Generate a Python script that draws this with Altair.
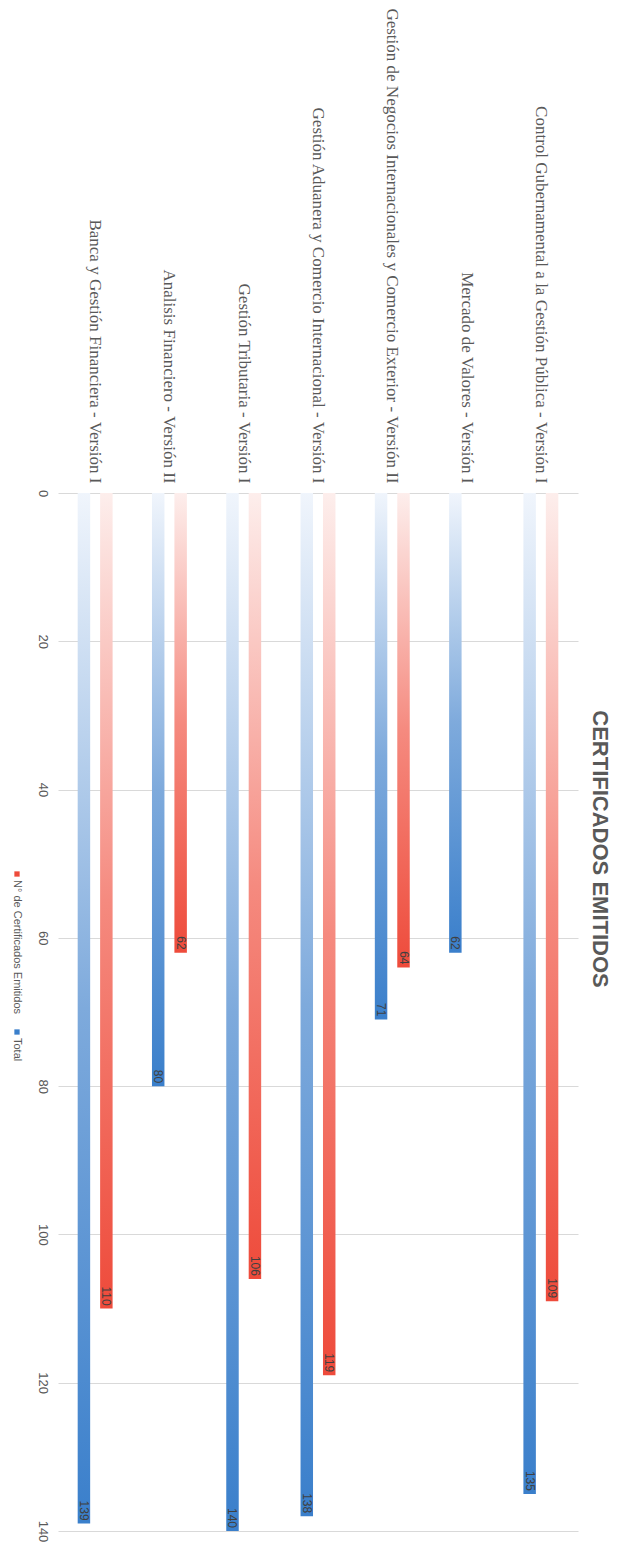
import altair as alt
import pandas as pd

categorias = [
    "Banca y Gestión Financiera - Versión I",
    "Analisis Financiero - Versión II",
    "Gestión Tributaria - Versión I",
    "Gestión Aduanera y Comercio Internacional - Versión I",
    "Gestión de Negocios Internacionales y Comercio Exterior - Versión II",
    "Mercado de Valores - Versión I",
    "Control Gubernamental a la Gestión Pública - Versión I",
]
total = [139, 80, 140, 138, 71, 62, 135]
certificados = [110, 62, 106, 119, 64, None, 109]
series = ["Total", "N° de Certificados Emitidos"]
ticks_y = [0, 20, 40, 60, 80, 100, 120, 140]

BLUE = "#3a7fcb"
RED = "#ee4b3b"

df_total = pd.DataFrame({"categoria": categorias, "valor": total, "serie": series[0]})
df_cert = pd.DataFrame({"categoria": categorias, "valor": certificados, "serie": series[1]}).dropna()
df_cert["valor"] = df_cert["valor"].astype(int)

x_enc = alt.X(
    "categoria:N",
    sort=categorias,
    scale=alt.Scale(paddingInner=0.53, paddingOuter=0.265),
    axis=alt.Axis(
        orient="top", labelAngle=90, title=None, ticks=False, domain=False,
        labelFont="Liberation Serif", labelFontSize=17, labelColor="#595959",
        labelLimit=600, labelPadding=10, grid=False,
    ),
)
xoff_enc = alt.XOffset("serie:N", sort=series,
                       scale=alt.Scale(domain=series, paddingInner=0.444, paddingOuter=0))
y_enc = alt.Y(
    "valor:Q",
    scale=alt.Scale(domain=[0, 140], reverse=True, nice=False),
    axis=alt.Axis(
        values=ticks_y, labelAngle=90, title=None, ticks=False, domain=False,
        grid=True, gridColor="#d9d9d9", labelFontSize=13, labelColor="#595959",
        labelFont="Liberation Sans", labelPadding=10,
    ),
)

grad_blue = alt.Gradient(
    gradient="linear", x1=0, x2=0, y1=0, y2=1,
    stops=[alt.GradientStop(color="#f0f5fc", offset=0),
           alt.GradientStop(color="#7eaadc", offset=0.5),
           alt.GradientStop(color=BLUE, offset=1)],
)
grad_red = alt.Gradient(
    gradient="linear", x1=0, x2=0, y1=0, y2=1,
    stops=[alt.GradientStop(color="#fdeeec", offset=0),
           alt.GradientStop(color="#f58a7f", offset=0.5),
           alt.GradientStop(color=RED, offset=1)],
)

bars_total = alt.Chart(df_total).mark_bar(color=grad_blue).encode(x=x_enc, xOffset=xoff_enc, y=y_enc)
bars_cert = alt.Chart(df_cert).mark_bar(color=grad_red).encode(x=x_enc, xOffset=xoff_enc, y=y_enc)

txt_style = dict(angle=90, align="right", baseline="middle", dx=-3, fontSize=12,
                 color="#404040", font="Liberation Sans")
lab_total = alt.Chart(df_total).mark_text(**txt_style).encode(
    x=x_enc, xOffset=xoff_enc, y=y_enc, text="valor:Q")
lab_cert = alt.Chart(df_cert).mark_text(**txt_style).encode(
    x=x_enc, xOffset=xoff_enc, y=y_enc, text="valor:Q")

# Custom rotated legend
leg_df = pd.DataFrame({"label": [series[1]]})
leg_df2 = pd.DataFrame({"label": [series[0]]})
leg_sq_red = alt.Chart(leg_df).mark_square(size=28, color=RED, opacity=1).encode(
    x=alt.value(-41), y=alt.value(381))
leg_tx_red = alt.Chart(leg_df).mark_text(angle=90, align="left", baseline="middle",
                                         fontSize=11, color="#595959",
                                         font="Liberation Sans").encode(
    x=alt.value(-41), y=alt.value(387), text="label:N")
leg_sq_blue = alt.Chart(leg_df2).mark_square(size=28, color=BLUE, opacity=1).encode(
    x=alt.value(-41), y=alt.value(539))
leg_tx_blue = alt.Chart(leg_df2).mark_text(angle=90, align="left", baseline="middle",
                                           fontSize=11, color="#595959",
                                           font="Liberation Sans").encode(
    x=alt.value(-41), y=alt.value(545), text="label:N")

chart = alt.layer(
    bars_total, bars_cert, lab_total, lab_cert,
    leg_sq_red, leg_tx_red, leg_sq_blue, leg_tx_blue,
).properties(
    width=520,
    height=1038,
    title=alt.TitleParams(
        "CERTIFICADOS EMITIDOS", orient="right", anchor="middle", angle=90,
        dx=-163, fontSize=22, fontWeight="bold", color="#595959",
        font="Liberation Sans", offset=10,
    ),
    autosize=alt.AutoSizeParams(type="none"),
    padding={"left": 50, "top": 485, "right": 40, "bottom": 12},
).configure(background="white").configure_view(stroke=None, strokeWidth=0)

chart.save("out.html", embed_options={"renderer": "svg", "actions": False})
